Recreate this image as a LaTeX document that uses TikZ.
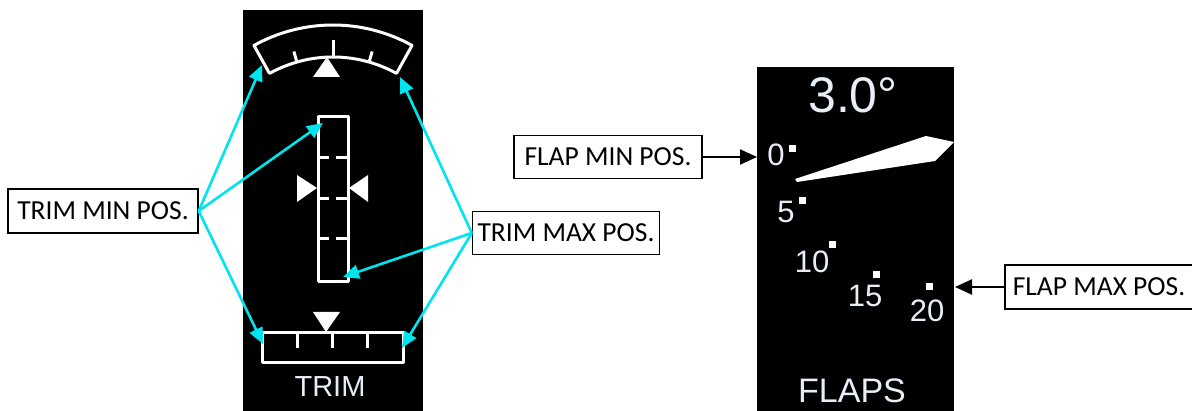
\documentclass[tikz,border=0pt]{standalone}
\usepackage{fontspec}
\setmainfont{Carlito}
\newfontfamily\dispfont{Liberation Sans}
\usetikzlibrary{arrows.meta,positioning}
\definecolor{scrn}{RGB}{232,238,246}
\definecolor{callout}{RGB}{0,228,238}
\tikzset{
  gline/.style={draw=white, line width=3pt, line join=round},
  dtext/.style={text=scrn, inner sep=0pt, anchor=base, font=\dispfont\fontsize{31}{31}\selectfont},
  sq/.style={fill=white, minimum size=7pt, inner sep=0pt},
  lbox/.style={draw, line width=1.4pt, minimum width=188pt, minimum height=43pt, inner sep=0pt, font=\fontsize{27.5}{27.5}\selectfont},
  carr/.style={draw=callout, line width=2.6pt, -{Triangle[length=16pt,width=14pt]}},
  barr/.style={draw=black, line width=2pt, -{Triangle[length=17pt,width=15pt]}},
}

\begin{document}
\begin{tikzpicture}[x=1pt, y=-1pt]
  \useasboundingbox (0,0) rectangle (1192,411);

  %% --- trim indicator (left) ---
  \fill[black] (243,10) rectangle (423,411);
  % stabilizer arc scale
  \draw[gline] ([shift={(333,188)}]-119:163) arc[start angle=-119, end angle=-61, radius=163]
    -- ([shift={(333,188)}]-61:131) arc[start angle=-61, end angle=-119, radius=131] -- cycle;
  \foreach \a/\l in {-106/142, -90/148, -74/142}
    \draw[gline] ([shift={(333,188)}]\a:131) -- ([shift={(333,188)}]\a:\l);
  \fill[white] (327,57) -- (340,77) -- (313,77) -- cycle;

  % vertical trim bar
  \draw[gline] (318,117) rectangle (348,282);
  \foreach \y in {158,199,239}
    \draw[gline] (318,\y) -- (329,\y) (336,\y) -- (348,\y);
  \fill[white] (297,175) -- (317,188) -- (297,202) -- cycle;
  \fill[white] (368,175) -- (349,188) -- (368,202) -- cycle;

  % rudder scale
  \draw[gline] (262,333) rectangle (403,363);
  \foreach \x in {297,332,367} \draw[gline] (\x,333) -- (\x,348);
  \fill[white] (313,312) -- (340,312) -- (326,332) -- cycle;

  \node[dtext, font=\dispfont\fontsize{29}{29}\selectfont] (trim) at (330,397) {TRIM};

  % callout points
  \coordinate (arcL) at (262,65);
  \coordinate (barT) at (323,123);
  \coordinate (boxL) at (263,344);
  \coordinate (arcR) at (400,77);
  \coordinate (barB) at (343,277);
  \coordinate (boxR) at (402,348);

  \node[lbox, minimum width=190pt, minimum height=44pt] (trimmin) at (103,211) {TRIM MIN POS.};
  \node[lbox, minimum width=187pt] (trimmax) at (566,233) {TRIM MAX POS.};
  \foreach \p in {arcL,barT,boxL} \draw[carr] (trimmin.east) -- (\p);
  \foreach \p in {arcR,barB,boxR} \draw[carr] (trimmax.west) -- (\p);

  %% --- flap indicator (right) ---
  \fill[black] (757,67) rectangle (954,411);
  \node[dtext, font=\dispfont\fontsize{50}{50}\selectfont] (angle) at (853,113) {3.0°};
  \fill[white] (795,179) -- (926,136) -- (954,142) -- (935,161) -- (797,182) -- cycle;

  \node[dtext] (f0) at (776,166) {0};
  \node[dtext] (f5) at (786,223) {5};
  \node[dtext] (f10) at (812,273) {10};
  \node[dtext] (f15) at (865,307) {15};
  \node[dtext] (f20) at (927,322) {20};
  \foreach \n/\p in {s0/{792,149}, s5/{802,201}, s10/{832,245}, s15/{876,275}, s20/{929,287}}
    \node[sq] (\n) at (\p) {};
  \node[dtext, font=\dispfont\fontsize{34}{34}\selectfont] (flaps) at (852,403) {FLAPS};

  \coordinate (fminTip) at (757,157);
  \coordinate (fmaxTip) at (955,287);
  \node[lbox] (flapmin) at (608,157) {FLAP MIN POS.};
  \node[lbox, minimum height=44pt] (flapmax) at (1099,287) {FLAP MAX POS.};
  \draw[barr] (flapmin.east) -- (fminTip);
  \draw[barr] (flapmax.west) -- (fmaxTip);
\end{tikzpicture}
\end{document}
